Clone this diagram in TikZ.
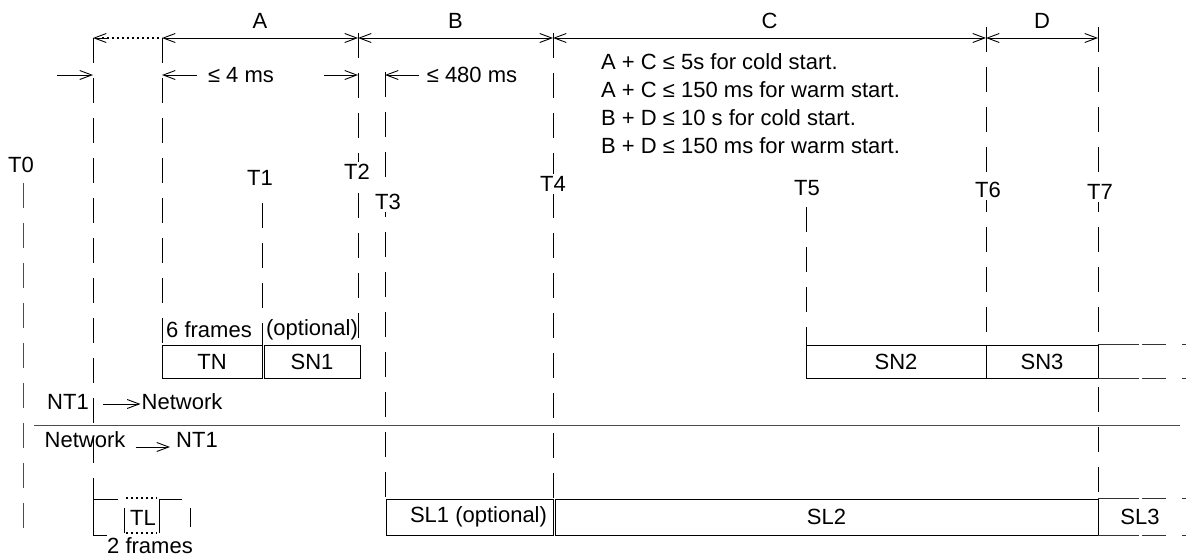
\documentclass[tikz,border=0pt]{standalone}
\usepackage{fontspec}
\setmainfont{Liberation Sans}
\usetikzlibrary{arrows.meta}

\begin{document}
\begin{tikzpicture}[x=1pt,y=-1pt]
	\tikzstyle{every node}=[font=\fontsize{22}{26}\selectfont, inner sep=1pt]
	\tikzstyle{tline}=[line width=0.9pt, dash pattern=on 25pt off 15pt]
	\tikzstyle{tlabel}=[fill=white, inner sep=2pt]
	\tikzstyle{slot}=[rectangle, draw, line width=0.9pt, inner sep=0pt]
	\tikzstyle{tail}=[line width=0.9pt, black!80, dash pattern=on 41pt off 3pt on 24pt off 16pt]
	\tikzstyle{dots}=[line width=1.6pt, dash pattern=on 1.6pt off 3.4pt]
	\tikzstyle{dim}=[line width=0.9pt, {Straight Barb[length=12pt,width=9pt]}-{Straight Barb[length=12pt,width=9pt]}]
	\tikzstyle{arr}=[line width=0.9pt, -{Straight Barb[length=12pt,width=9pt]}]
	\useasboundingbox (0,0) rectangle (1186,557);
	\draw[tline, black!70] (23,183) -- (23,528);
	\foreach \x/\a/\b in {93/38/480, 162/38/345, 262/203/345, 358/33/345, 385/72/499, 553/33/499, 806/207/345, 986/27/345, 1098/27/499}
		\draw[tline] (\x,\a) -- (\x,\b);
	\node (t0) at (21,165) {T0};
	\node (t1) at (260,178) {T1};
	\node[tlabel] (t2) at (357,172) {T2};
	\node[tlabel] (t3) at (388,202) {T3};
	\node[tlabel] (t4) at (553,184) {T4};
	\node (t5) at (807,188) {T5};
	\node[tlabel] (t6) at (988,190) {T6};
	\node[tlabel] (t7) at (1100,192) {T7};
	\draw[dots] (102,38) -- (162,38);
	\draw[arr] (108,38) -- (93,38);
	\draw[dim] (162,38) -- node[above=8pt] (lA) {A} (358,38);
	\draw[dim] (358,38) -- node[above=8pt] (lB) {B} (553,38);
	\draw[dim] (553,38) -- node[above=8pt] (lC) {C} (986,38);
	\draw[dim] (986,38) -- node[above=8pt] (lD) {D} (1098,38);
	\draw[arr] (57,75) -- (93,75);
	\node (lim4) at (241,75) {≤ 4 ms};
	\draw[arr] ([xshift=-10pt]lim4.west) -- (162,75);
	\draw[arr] ([xshift=49pt]lim4.east) -- (358,75);
	\node (lim480) at (472,75) {≤ 480 ms};
	\draw[arr] ([xshift=-7pt]lim480.west) -- (385,75);
	\node[anchor=west] (cond1) at (600,62) {A + C ≤ 5s for cold start.};
	\node[anchor=west] (cond2) at (600,90) {A + C ≤ 150 ms for warm start.};
	\node[anchor=west] (cond3) at (600,118) {B + D ≤ 10 s for cold start.};
	\node[anchor=west] (cond4) at (600,146) {B + D ≤ 150 ms for warm start.};
	\node (fr6) at (209,330) {6 frames};
	\node (opt) at (312,330) {(optional)};
	\node[slot, minimum width=100pt, minimum height=33pt] (tn) at (212,361.5) {TN};
	\node[slot, minimum width=96pt, minimum height=33pt] (sn1) at (312,361.5) {SN1};
	\node[slot, minimum width=180pt, minimum height=33pt] (sn2) at (896,361.5) {SN2};
	\node[slot, minimum width=112pt, minimum height=33pt] (sn3) at (1042,361.5) {SN3};
	\draw[tail] (sn3.north east) -- ++(88,0);
	\draw[tail] (sn3.south east) -- ++(88,0);
	\node (nt1a) at (68,402) {NT1};
	\node (neta) at (182,402) {Network};
	\draw[arr] ([xshift=13pt,yshift=-2pt]nt1a.east) -- ([yshift=-2pt]neta.west);
	\draw[line width=0.9pt, black!70] (34,425) -- (1180,425);
	\node (netb) at (85,440) {Network};
	\node (nt1b) at (197,440) {NT1};
	\draw[arr] ([xshift=9pt,yshift=-7pt]netb.east) -- ([xshift=-5pt,yshift=-7pt]nt1b.west);
	\draw[line width=0.9pt] (93,478) -- (93,535) -- (107,535);
	\draw[line width=0.9pt] (93,499) -- (118,499);
	\draw[dots] (126,498) -- (157,498);
	\draw[dots] (126,533) -- (157,533);
	\draw[line width=0.9pt] (124,508) -- (124,533);
	\node (tl) at (143,518) {TL};
	\draw[line width=0.9pt] (159,533) -- (159,499) -- (182,499);
	\draw[line width=0.9pt] (190,508) -- (190,527);
	\node (fr2) at (150,546) {2 frames};
	\node[slot, minimum width=167pt, minimum height=36pt] (sl1) at (469.5,517) {\hspace{18pt}SL1 (optional)};
	\node[slot, minimum width=543pt, minimum height=36pt] (sl2) at (826.5,517) {SL2};
	\node (sl3) at (1140,517) {SL3};
	\draw[tail] (sl2.north east) -- ++(88,0);
	\draw[tail] (sl2.south east) -- ++(88,0);
\end{tikzpicture}
\end{document}
